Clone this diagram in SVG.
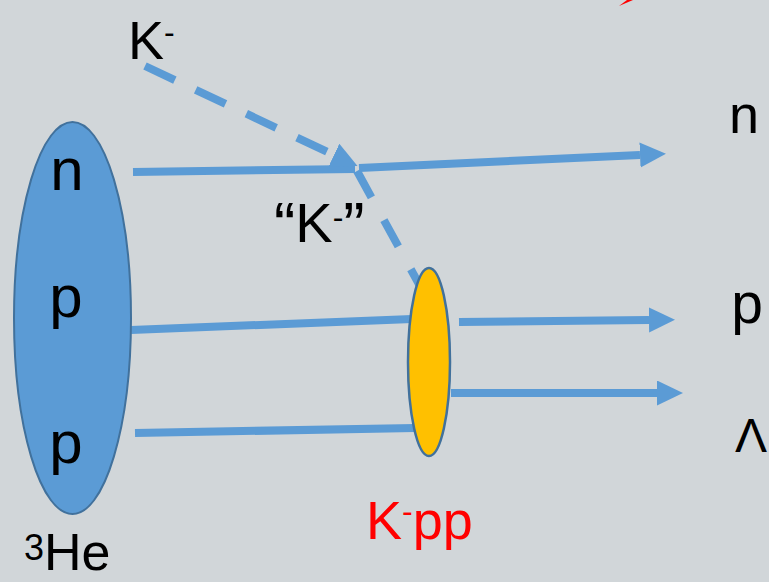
<svg xmlns="http://www.w3.org/2000/svg" width="769" height="582" viewBox="0 0 769 582">
<style>
.ln{fill:none;stroke:#5b9bd5;stroke-width:8}
.dash{stroke-dasharray:33 23}
.lbl{font-family:"Liberation Sans",Arial,sans-serif;fill:#000}
.red{fill:#ff0000}
</style>
<defs>
<marker id="ah" markerUnits="userSpaceOnUse" markerWidth="27" markerHeight="26" refX="0" refY="12.5" orient="auto">
<path d="M0,0 L26,12.5 L0,25 Z" fill="#5b9bd5"/>
</marker>
</defs>
<rect width="769" height="582" fill="#d1d6d9"/>
<path d="M619,6 L627,0 L633,0 Z" fill="#ff0000"/>
<g id="connectors">
<line class="ln" x1="133" y1="172" x2="355" y2="169"/>
<line class="ln" x1="359" y1="168" x2="640" y2="155" marker-end="url(#ah)"/>
<line class="ln dash" x1="145" y1="66" x2="334" y2="155" marker-end="url(#ah)"/>
<line class="ln" x1="131" y1="330" x2="412" y2="319"/>
<line class="ln" x1="135" y1="433" x2="415" y2="428"/>
<line class="ln" x1="357" y1="171" x2="420" y2="286" style="stroke-dasharray:30 26"/>
<line class="ln" x1="459" y1="322" x2="649" y2="320" marker-end="url(#ah)"/>
<line class="ln" x1="451" y1="393" x2="657" y2="393" marker-end="url(#ah)"/>
</g>
<g id="he3">
<ellipse cx="72.5" cy="318" rx="58.5" ry="196" fill="#5b9bd5" stroke="#41719c" stroke-width="2"/>
<text class="lbl" x="67" y="190" font-size="60" text-anchor="middle">n</text>
<text class="lbl" x="66" y="317" font-size="60" text-anchor="middle">p</text>
<text class="lbl" x="66" y="463" font-size="60" text-anchor="middle">p</text>
<text class="lbl" x="24" y="570" font-size="52"><tspan font-size="36" dy="-10">3</tspan><tspan dy="10">He</tspan></text>
</g>
<g id="kminus">
<text class="lbl" x="128" y="59" font-size="54">K<tspan font-size="32" dy="-16">-</tspan></text>
</g>
<g id="kminus-virtual">
<text class="lbl" x="274" y="242" font-size="56"><tspan font-size="64" dy="6">“</tspan><tspan dy="-6">K</tspan><tspan font-size="32" dy="-14">-</tspan><tspan font-size="64" dy="20">”</tspan></text>
</g>
<g id="kpp">
<ellipse cx="429" cy="362" rx="21" ry="94" fill="#ffc000" stroke="#41719c" stroke-width="2.5"/>
<text class="lbl red" x="366" y="539" font-size="54">K<tspan font-size="32" dy="-17">-</tspan><tspan dy="17">pp</tspan></text>
</g>
<g id="out-n"><text class="lbl" x="744" y="133" font-size="54" text-anchor="middle">n</text></g>
<g id="out-p"><text class="lbl" x="747" y="323" font-size="57" text-anchor="middle">p</text></g>
<g id="out-lambda"><text class="lbl" x="751" y="452" font-size="48" text-anchor="middle">Λ</text></g>
</svg>
